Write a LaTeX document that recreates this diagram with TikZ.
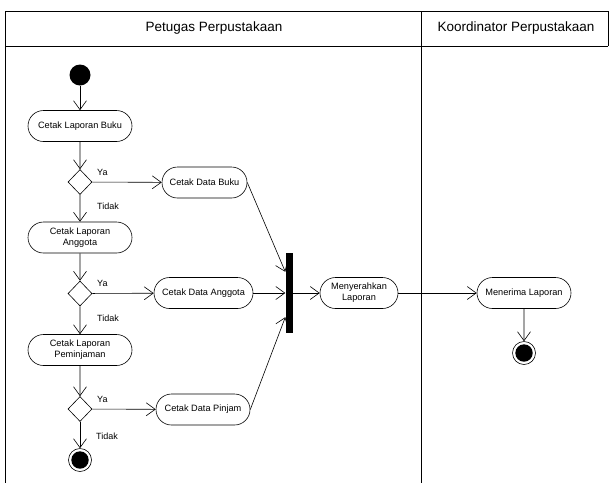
\documentclass[tikz,border=0pt]{standalone}
\usepackage{fontspec}
\setmainfont{Liberation Sans}
\usetikzlibrary{arrows.meta,shapes.misc,shapes.geometric,calc}
\begin{document}
\begin{tikzpicture}[x=1pt,y=-1pt,
  act/.style={rounded rectangle, draw, line width=0.6pt, inner sep=0pt,
    minimum height=31pt, font=\fontsize{9.2}{11}\selectfont, align=center},
  decision/.style={diamond, draw, line width=0.6pt, inner sep=0pt,
    minimum width=24pt, minimum height=25pt},
  initial/.style={circle, fill, inner sep=0pt, minimum size=21pt},
  final/.style={circle, draw, line width=0.6pt, inner sep=0pt, minimum size=23pt,
    path picture={\fill (path picture bounding box.center) circle (8.7pt);}},
  syncbar/.style={rectangle, fill, inner sep=0pt, minimum width=7pt, minimum height=80pt},
  flow/.style={-{Straight Barb[length=9pt,width=13pt]}, line width=0.6pt},
  guard/.style={font=\fontsize{9}{11}\selectfont, anchor=west, inner sep=0pt},
  lane/.style={line width=0.8pt},
  lanetitle/.style={font=\fontsize{13.5}{15}\selectfont}]
\useasboundingbox (0,0) rectangle (609,483);

% swimlanes
\draw[lane] (5,11) -- (608,11);
\draw[lane] (5,46) -- (608,46);
\draw[lane] (608,11) -- (608,46);
\draw[lane] (5,11) -- (5,483);
\draw[lane] (421.7,11) -- (421.7,483);
\node[lanetitle] (laneA) at (214,28.5) {Petugas Perpustakaan};
\node[lanetitle] (laneB) at (516,28.5) {Koordinator Perpustakaan};

% left lane: report printing flow
\node[initial] (start) at (80,75) {};
\node[act, minimum width=104pt] (lapbuku) at (80,126) {Cetak Laporan Buku};
\node[decision] (d1) at (80,182) {};
\node[act, minimum width=85pt] (databuku) at (204.5,182.5) {Cetak Data Buku};
\node[act, minimum width=104pt] (lapanggota) at (80,237.5) {Cetak Laporan\\Anggota};
\node[decision] (d2) at (80,293.5) {};
\node[act, minimum width=99pt] (dataanggota) at (203.5,293) {Cetak Data Anggota};
\node[act, minimum width=104pt] (lappinjam) at (80,350) {Cetak Laporan\\Peminjaman};
\node[decision] (d3) at (80,409) {};
\node[act, minimum width=94pt] (datapinjam) at (203,409.5) {Cetak Data Pinjam};
\node[final] (end1) at (80,460) {};

\node[syncbar] (bar) at (289,293) {};
\node[act, minimum width=78pt] (serah) at (359,293) {Menyerahkan\\Laporan};

% right lane
\node[act, minimum width=94pt] (terima) at (524,293) {Menerima Laporan};
\node[final] (end2) at (524,353) {};

% guards
\node[guard] (ya1) at (97,172) {Ya};
\node[guard] (tidak1) at (97,206) {Tidak};
\node[guard] (ya2) at (97,283) {Ya};
\node[guard] (tidak2) at (97,318) {Tidak};
\node[guard] (ya3) at (97,399) {Ya};
\node[guard] (tidak3) at (96,436) {Tidak};

% control flow
\draw[flow] (start) -- (lapbuku);
\draw[flow] (lapbuku) -- (d1);
\draw[flow] (d1) -- (databuku);
\draw[flow] (d1) -- (lapanggota);
\draw[flow] (lapanggota) -- (d2);
\draw[flow] (d2) -- (dataanggota);
\draw[flow] (d2) -- (lappinjam);
\draw[flow] (lappinjam) -- (d3);
\draw[flow] (d3) -- (datapinjam);
\draw[flow] (d3) -- (end1);
\draw[flow] (databuku.east) -- ($(bar.north west)+(0,19)$);
\draw[flow] (dataanggota.east) -- (bar.west);
\draw[flow] (datapinjam.east) -- ($(bar.south west)+(0,-16)$);
\draw[flow] (bar.east) -- (serah.west);
\draw[flow] (serah.east) -- (terima.west);
\draw[flow] (terima) -- (end2);
\end{tikzpicture}
\end{document}
